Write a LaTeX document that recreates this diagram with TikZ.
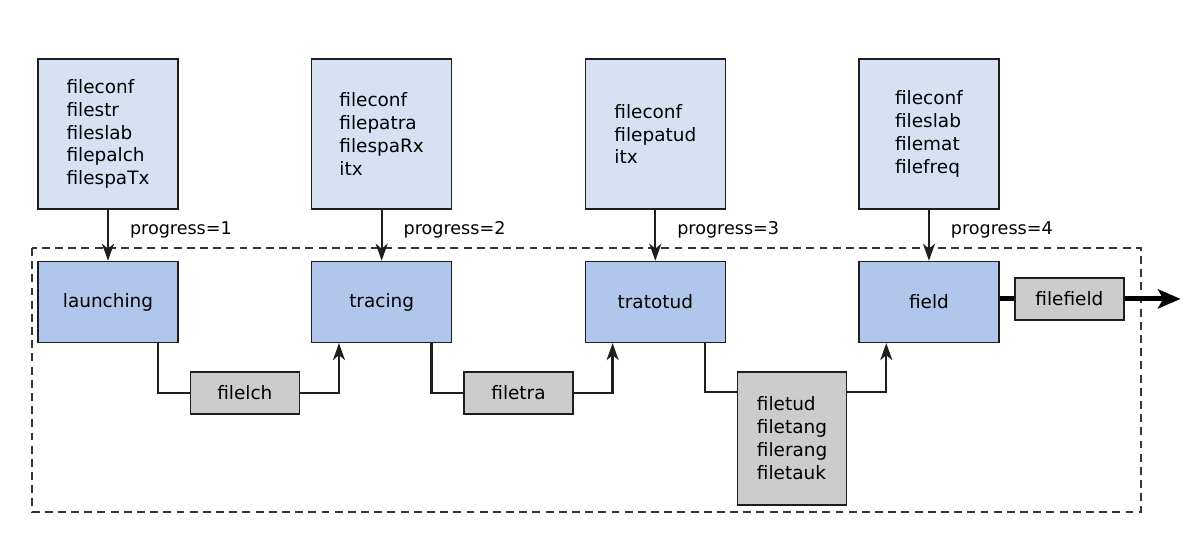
\documentclass[tikz,border=0pt]{standalone}
\usepackage{fontspec}
\setmainfont{DejaVu Sans}
\usepackage{xcolor}
\usepackage{tikz}
\usetikzlibrary{arrows.meta, positioning, calc}
\definecolor{inblue}{RGB}{214, 226, 244}
\definecolor{stageblue}{RGB}{176, 198, 234}
\definecolor{filegray}{RGB}{204, 204, 204}
\definecolor{edge}{RGB}{30, 30, 30}
\tikzset{
    inbox/.style={rectangle, draw=edge, fill=inblue, line width=0.8pt, minimum width=2.8cm, minimum height=3cm, align=left, inner sep=0pt, font=\fontsize{10.5}{13}\selectfont},
    stage/.style={rectangle, draw=edge, fill=stageblue, line width=0.8pt, minimum width=2.8cm, minimum height=1.62cm, text centered, font=\fontsize{10.5}{13}\selectfont},
    filebox/.style={rectangle, draw=edge, fill=filegray, line width=0.8pt, minimum width=2.18cm, minimum height=0.84cm, align=left, inner sep=0pt, font=\fontsize{10.5}{13}\selectfont},
    line/.style={draw=edge, line width=1.3pt},
    arrow/.style={line, -{Stealth[length=0.34cm, width=0.24cm, inset=0.1cm]}},
    bigarrow/.style={draw=black, line width=2.8pt, -{Stealth[length=0.45cm, width=0.38cm, inset=0.1cm]}},
    groupbox/.style={draw=edge!90, line width=0.8pt, dash pattern=on 4.5pt off 3pt}
}
\begin{document}
\begin{tikzpicture}[node distance=1.02cm and 2.645cm]
    \useasboundingbox (0,0) rectangle (23.96,-11.08);

    % Input files
    \node [inbox] (in1) at (2.16,-2.68) {fileconf\\filestr\\fileslab\\filepalch\\filespaTx};
    \node [inbox, right=of in1] (in2) {fileconf\\filepatra\\filespaRx\\itx};
    \node [inbox, right=of in2] (in3) {fileconf\\filepatud\\itx};
    \node [inbox, right=of in3] (in4) {fileconf\\fileslab\\filemat\\filefreq};

    % Stages
    \node [stage, below=of in1] (launching) {launching};
    \node [stage, below=of in2] (tracing) {tracing};
    \node [stage, below=of in3] (tratotud) {tratotud};
    \node [stage, below=of in4] (field) {field};

    % Intermediate files
    \node [filebox, anchor=north] (filelch) at ($(launching.south)!0.5!(tracing.south)+(0,-0.56)$) {filelch};
    \node [filebox, anchor=north] (filetra) at ($(tracing.south)!0.5!(tratotud.south)+(0,-0.56)$) {filetra};
    \node [filebox, anchor=north, minimum height=2.66cm] (filetud) at ($(tratotud.south)!0.5!(field.south)+(0,-0.56)$) {filetud\\filetang\\filerang\\filetauk};
    \node [filebox, right=0.29cm of field, yshift=0.06cm] (filefield) {filefield};
    \coordinate (out) at ($(filefield.east)+(1.12,0)$);

    % Frame
    \coordinate (frameNW) at (0.64,-4.96);
    \coordinate (frameSE) at (22.82,-10.24);
    \draw [groupbox] (frameNW) rectangle (frameSE);

    % Connections
    \draw [arrow] (in1) -- node[right=0.3cm, pos=0.4] {progress=1} (launching);
    \draw [arrow] (in2) -- node[right=0.3cm, pos=0.4] {progress=2} (tracing);
    \draw [arrow] (in3) -- node[right=0.3cm, pos=0.4] {progress=3} (tratotud);
    \draw [arrow] (in4) -- node[right=0.3cm, pos=0.4] {progress=4} (field);

    \draw [line] ($(launching.south east)+(-0.42,0)$) |- (filelch.west);
    \draw [arrow] (filelch.east) -| ($(tracing.south west)+(0.56,0)$);
    \draw [line] ($(tracing.south east)+(-0.42,0)$) |- (filetra.west);
    \draw [arrow] (filetra.east) -| ($(tratotud.south west)+(0.56,0)$);
    \draw [line] ($(tratotud.south east)+(-0.42,0)$) |- ($(filetud.north west)+(0,-0.42)$);
    \draw [arrow] ($(filetud.north east)+(0,-0.42)$) -| ($(field.south west)+(0.56,0)$);

    \draw [line, line width=2.8pt, draw=black] (field.east |- filefield) -- (filefield.west);
    \draw [bigarrow] (filefield.east) -- (out);

\end{tikzpicture}
\end{document}
